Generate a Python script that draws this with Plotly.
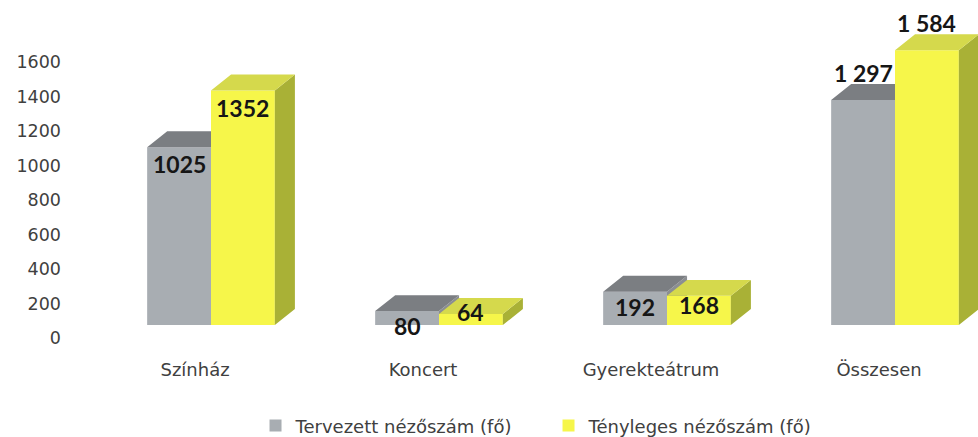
import plotly.graph_objects as go

categories = ["Színház", "Koncert", "Gyerekteátrum", "Összesen"]
planned = [1025, 80, 192, 1297]
actual = [1352, 64, 168, 1584]
planned_labels = ["1025", "80", "192", "1 297"]
actual_labels = ["1352", "64", "168", "1 584"]
y_ticks = [0, 200, 400, 600, 800, 1000, 1200, 1400, 1600]
series_names = ["Tervezett nézőszám (fő)", "Tényleges nézőszám (fő)"]

# styling constants
BAR_W = 0.28
DX = 0.088          # depth offset in x units
DY = 92             # depth offset in value units
LABEL_SHIFT = -0.07
TICK_SCALE = 0.1725 / 0.1735
TICK_SHIFT = -13 / 0.1735
planned_yshift = [-17, -15, -15, 27]
actual_yshift = [-18, 2, -9, 27]

GRAY = dict(front="#a8adb2", top="#7b7e82", side="#8b8e92")
YELL = dict(front="#f6f64a", top="#d5d94c", side="#a9b136")

FONT = "DejaVu Sans"
BOLD_FONT = "Lato"
TXT = "#404040"

fig = go.Figure()


def add_series(vals, offset, colors, name, xa, ya):
    xs = list(range(len(vals)))
    fig.add_trace(go.Bar(
        x=xs, y=vals, width=BAR_W, offset=offset, name=name,
        marker=dict(color=colors["front"], line=dict(width=0)),
        xaxis=xa, yaxis=ya, showlegend=True,
    ))
    tx, ty, sx, sy = [], [], [], []
    for i, v in zip(xs, vals):
        x0 = i + offset
        x1 = x0 + BAR_W
        tx += [x0, x1, x1 + DX, x0 + DX, x0, None]
        ty += [v, v, v + DY, v + DY, v, None]
        sx += [x1, x1, x1 + DX, x1 + DX, x1, None]
        sy += [0, v, v + DY, DY, 0, None]
    fig.add_trace(go.Scatter(x=sx, y=sy, fill="toself", mode="lines",
                             line=dict(width=0), fillcolor=colors["side"],
                             xaxis=xa, yaxis=ya, showlegend=False, hoverinfo="skip"))
    fig.add_trace(go.Scatter(x=tx, y=ty, fill="toself", mode="lines",
                             line=dict(width=0), fillcolor=colors["top"],
                             xaxis=xa, yaxis=ya, showlegend=False, hoverinfo="skip"))


add_series(planned, -BAR_W, GRAY, series_names[0], "x", "y")
add_series(actual, 0.0, YELL, series_names[1], "x2", "y2")

annotations = []
for i in range(len(categories)):
    annotations.append(dict(x=i - BAR_W / 2, y=planned[i], xref="x", yref="y",
                            text=planned_labels[i], showarrow=False,
                            yanchor="middle", yshift=planned_yshift[i],
                            font=dict(family=BOLD_FONT, size=23, color="#161616", weight="bold")))
    annotations.append(dict(x=i + BAR_W / 2, y=actual[i], xref="x", yref="y",
                            text=actual_labels[i], showarrow=False,
                            yanchor="middle", yshift=actual_yshift[i],
                            font=dict(family=BOLD_FONT, size=23, color="#161616", weight="bold")))

XR = [(70 - 211) / 228, (978 - 211) / 228]
YR = [-(345 - 325) / 0.1735, (325 - 5) / 0.1735]

fig.update_layout(
    width=978, height=437,
    margin=dict(l=70, r=0, t=5, b=92, autoexpand=False),
    paper_bgcolor="white", plot_bgcolor="white",
    barmode="overlay",
    font=dict(family=FONT, color=TXT),
    xaxis=dict(range=XR, tickvals=[i + LABEL_SHIFT for i in range(len(categories))],
               ticktext=categories, showgrid=False, zeroline=False, showline=False,
               ticks="", tickfont=dict(size=18, color=TXT), ticklabelstandoff=12,
               automargin=False),
    yaxis=dict(range=YR, tickvals=[t * TICK_SCALE + TICK_SHIFT for t in y_ticks],
               ticktext=[str(t) for t in y_ticks], showgrid=False, zeroline=False,
               showline=False, ticks="", tickfont=dict(size=17.5, color=TXT),
               ticklabelstandoff=8, automargin=False),
    xaxis2=dict(range=XR, overlaying="x", visible=False),
    yaxis2=dict(range=YR, overlaying="y", visible=False),
    legend=dict(orientation="h", x=0.527, xanchor="center", y=-0.238, yanchor="middle",
                font=dict(size=18, color=TXT), traceorder="normal",
                entrywidth=248, itemwidth=30),
    annotations=annotations,
)

fig.write_html("out.html", config={"displayModeBar": False},
               post_script="document.body.style.margin='0';"
                           "document.body.style.overflow='hidden';")
